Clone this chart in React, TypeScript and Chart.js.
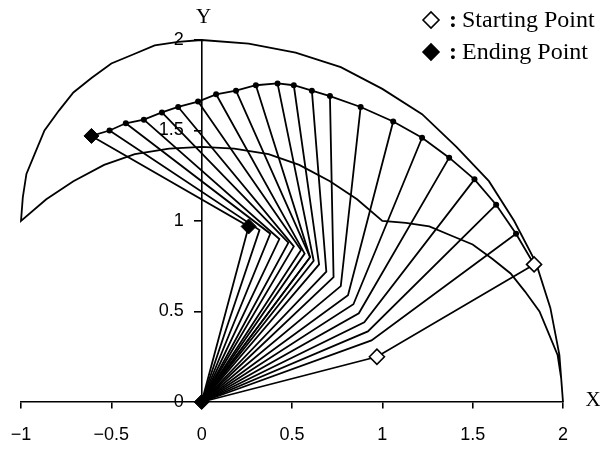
import React, { useEffect, useRef } from "react";
import { Chart, registerables } from "chart.js";

Chart.register(...registerables);

// ---- data ----
const xTickValues = [-1, -0.5, 0, 0.5, 1, 1.5, 2];
const yTickValues = [0, 0.5, 1, 1.5, 2];
const axisTitles = ["X", "Y"];
const legendLabels = ["Starting Point", "Ending Point"];

// base joint
const baseX = [0];
const baseY = [0];

// elbow (joint 2) positions, frame by frame
const elbowX = [0.97, 0.94, 0.92, 0.9, 0.87, 0.84, 0.81, 0.77, 0.73, 0.69, 0.65, 0.62, 0.6, 0.6, 0.57, 0.55, 0.51, 0.48, 0.43, 0.38, 0.32, 0.26];
const elbowY = [0.25, 0.34, 0.39, 0.44, 0.49, 0.54, 0.59, 0.64, 0.69, 0.72, 0.76, 0.78, 0.8, 0.8, 0.82, 0.84, 0.86, 0.88, 0.9, 0.93, 0.95, 0.97];

// hand (end effector) positions, frame by frame
const handX = [1.84, 1.74, 1.63, 1.51, 1.37, 1.22, 1.06, 0.88, 0.71, 0.61, 0.51, 0.42, 0.3, 0.19, 0.08, -0.02, -0.13, -0.22, -0.32, -0.42, -0.51, -0.61];
const handY = [0.76, 0.93, 1.09, 1.23, 1.35, 1.46, 1.55, 1.63, 1.69, 1.72, 1.75, 1.76, 1.75, 1.72, 1.7, 1.66, 1.63, 1.6, 1.56, 1.54, 1.5, 1.47];

// reachable workspace boundary
const boundaryX = [
  2.0, 1.98, 1.93, 1.85, 1.73, 1.59, 1.41, 1.22, 1.0, 0.77, 0.52, 0.26, 0.0,
  -0.13, -0.26, -0.38, -0.5, -0.61, -0.71, -0.79, -0.87, -0.92, -0.97, -0.99, -1.0,
  -0.86, -0.71, -0.54, -0.37, -0.18, 0.0, 0.18, 0.37, 0.54, 0.71, 0.86, 1.0,
  1.13, 1.26, 1.38, 1.5, 1.61, 1.71, 1.79, 1.87, 1.92, 1.97, 1.99, 2.0,
];
const boundaryY = [
  0.0, 0.26, 0.52, 0.77, 1.0, 1.22, 1.41, 1.59, 1.73, 1.85, 1.93, 1.98, 2.0,
  1.99, 1.97, 1.92, 1.87, 1.79, 1.71, 1.61, 1.5, 1.38, 1.26, 1.13, 1.0,
  1.12, 1.22, 1.31, 1.37, 1.4, 1.41, 1.4, 1.37, 1.31, 1.22, 1.12, 1.0,
  0.99, 0.97, 0.92, 0.87, 0.79, 0.71, 0.61, 0.5, 0.38, 0.26, 0.13, 0.0,
];

const SANS = '"Liberation Sans", Arial, sans-serif';
const SERIF = '"Liberation Serif", "Times New Roman", serif';

const fmt = (v: number) => String(v).replace("-", "\u2212");

function diamond(ctx: CanvasRenderingContext2D, x: number, y: number, r: number, fill: string) {
  ctx.beginPath();
  ctx.moveTo(x - r, y);
  ctx.lineTo(x, y - r);
  ctx.lineTo(x + r, y);
  ctx.lineTo(x, y + r);
  ctx.closePath();
  ctx.fillStyle = fill;
  ctx.fill();
  ctx.lineWidth = 1.6;
  ctx.strokeStyle = "#000";
  ctx.stroke();
}

const decorPlugin = {
  id: "decor",
  beforeDraw(chart: any) {
    // place y-axis labels to the left of the (centered) axis line
    const ys = chart.scales.y;
    const axisPx = chart.scales.x.getPixelForValue(0);
    const items = ys.getLabelItems ? ys.getLabelItems() : [];
    items.forEach((it: any) => {
      const tr = it.options.translation;
      if (tr[0] > axisPx - 3) tr[0] = axisPx - 18;
    });
  },
  afterDraw(chart: any) {
    const { ctx } = chart;
    const xs = chart.scales.x;
    const ys = chart.scales.y;
    ctx.save();
    ctx.fillStyle = "#000";
    ctx.font = `21px ${SERIF}`;
    ctx.textAlign = "center";
    ctx.textBaseline = "middle";
    ctx.fillText(axisTitles[0], xs.getPixelForValue(2) + 30, ys.getPixelForValue(0) - 2);
    ctx.fillText(axisTitles[1], xs.getPixelForValue(0) + 2, ys.getPixelForValue(2) - 23);

    // legend
    const lx = 431;
    const rows = [20, 52];
    const fills = ["#fff", "#000"];
    rows.forEach((ly, i) => {
      diamond(ctx, lx, ly, 8, fills[i]);
      ctx.fillStyle = "#000";
      ctx.textAlign = "left";
      ctx.textBaseline = "middle";
      ctx.font = `bold 24px ${SERIF}`;
      ctx.fillText(":", 449, ly + 1);
      ctx.font = `24px ${SERIF}`;
      ctx.fillText(legendLabels[i], 462, ly + 1);
    });
    ctx.restore();
  },
};

export default function App() {
  const ref = useRef<HTMLCanvasElement | null>(null);

  useEffect(() => {
    if (!ref.current) return;
    const last = handX.length - 1;
    const origin = { x: baseX[0], y: baseY[0] };

    const armSets = elbowX.map((ex, i) => ({
      data: [origin, { x: ex, y: elbowY[i] }, { x: handX[i], y: handY[i] }],
      showLine: true,
      borderColor: "#000",
      borderWidth: 1.8,
      pointRadius: 0,
      tension: 0,
      clip: false as any,
      order: 3,
    }));

    const chart = new Chart(ref.current, {
      type: "scatter",
      data: {
        datasets: [
          {
            label: legendLabels[1],
            data: [origin, { x: elbowX[last], y: elbowY[last] }, { x: handX[last], y: handY[last] }],
            showLine: false,
            pointStyle: "rectRot",
            pointRadius: 7.5,
            pointBackgroundColor: "#000",
            pointBorderColor: "#000",
            pointBorderWidth: 1,
            clip: false as any,
            order: 0,
          },
          {
            label: legendLabels[0],
            data: [{ x: elbowX[0], y: elbowY[0] }, { x: handX[0], y: handY[0] }],
            showLine: false,
            pointStyle: "rectRot",
            pointRadius: 7.5,
            pointBackgroundColor: "#fff",
            pointBorderColor: "#000",
            pointBorderWidth: 1.6,
            clip: false as any,
            order: 1,
          },
          {
            label: "trajectory",
            data: handX.map((hx, i) => ({ x: hx, y: handY[i] })),
            showLine: true,
            borderColor: "#000",
            borderWidth: 1.8,
            tension: 0,
            pointRadius: (c: any) => (c.dataIndex === 0 || c.dataIndex === last ? 0 : 3),
            pointBackgroundColor: "#000",
            pointBorderColor: "#000",
            pointBorderWidth: 0,
            clip: false as any,
            order: 2,
          },
          ...armSets,
          {
            label: "workspace",
            data: boundaryX.map((bx, i) => ({ x: bx, y: boundaryY[i] })),
            showLine: true,
            borderColor: "#000",
            borderWidth: 1.8,
            tension: 0,
            pointRadius: 0,
            clip: false as any,
            order: 4,
          },
        ],
      },
      options: {
        animation: false,
        responsive: false,
        maintainAspectRatio: false,
        layout: { padding: { left: 21, right: 37, top: 40, bottom: 48 } },
        plugins: { legend: { display: false }, tooltip: { enabled: false } },
        scales: {
          x: {
            type: "linear",
            min: -1,
            max: 2,
            position: { y: 0 } as any,
            afterBuildTicks: (s: any) => {
              s.ticks = xTickValues.map((v) => ({ value: v }));
            },
            afterFit: (s: any) => {
              s.paddingLeft = 0;
              s.paddingRight = 0;
            },
            ticks: {
              color: "#000",
              font: { family: SANS, size: 18 },
              padding: 16,
              maxRotation: 0,
              callback: (v: any) => fmt(Number(v)),
            },
            grid: { drawOnChartArea: false, color: "#000", lineWidth: 1.6, tickLength: 6 },
            border: { color: "#000", width: 1.6 },
          },
          y: {
            type: "linear",
            min: 0,
            max: 2,
            position: { x: 0 } as any,
            afterBuildTicks: (s: any) => {
              s.ticks = yTickValues.map((v) => ({ value: v }));
            },
            afterFit: (s: any) => {
              s.paddingTop = 0;
              s.paddingBottom = 0;
            },
            ticks: {
              color: "#000",
              font: { family: SANS, size: 18 },
              padding: 10,
              callback: (v: any) => fmt(Number(v)),
            },
            grid: { drawOnChartArea: false, color: "#000", lineWidth: 1.6, tickLength: 7 },
            border: { color: "#000", width: 1.6 },
          },
        },
      },
      plugins: [decorPlugin],
    } as any);

    return () => chart.destroy();
  }, []);

  return (
    <div style={{ position: "fixed", left: 0, top: 0, width: 600, height: 450, background: "#fff" }}>
      <canvas ref={ref} width={600} height={450} style={{ width: 600, height: 450 }} />
    </div>
  );
}
